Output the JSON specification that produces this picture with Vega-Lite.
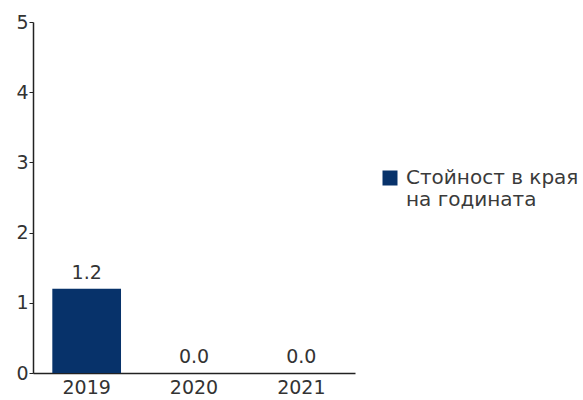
{
  "$schema": "https://vega.github.io/schema/vega-lite/v6.json",
  "width": 322,
  "height": 351,
  "autosize": "none",
  "padding": {"left": 33, "top": 22, "right": 228, "bottom": 27},
  "background": "white",
  "config": {
    "view": {"stroke": null},
    "font": "DejaVu Sans"
  },
  "data": {
    "values": [
      {"year": "2019", "value": 1.2, "series": "Стойност в края на годината"},
      {"year": "2020", "value": 0.0, "series": "Стойност в края на годината"},
      {"year": "2021", "value": 0.0, "series": "Стойност в края на годината"}
    ]
  },
  "encoding": {
    "x": {
      "field": "year",
      "type": "nominal",
      "scale": {"paddingInner": 0.36, "paddingOuter": 0.18},
      "axis": {
        "title": null,
        "labelAngle": 0,
        "ticks": false,
        "labelPadding": 5,
        "labelFontSize": 19,
        "labelColor": "#333333",
        "domainColor": "#222222",
        "domainWidth": 1.5,
        "grid": false
      }
    },
    "y": {
      "field": "value",
      "type": "quantitative",
      "scale": {"domain": [0, 5], "nice": false},
      "axis": {
        "title": null,
        "values": [0, 1, 2, 3, 4, 5],
        "grid": false,
        "tickSize": 4,
        "tickColor": "#222222",
        "labelFontSize": 19,
        "labelColor": "#333333",
        "labelPadding": 1,
        "domainColor": "#222222",
        "domainWidth": 1.5
      }
    }
  },
  "layer": [
    {
      "mark": {"type": "bar", "color": "#07326a"},
      "encoding": {
        "color": {
          "field": "series",
          "type": "nominal",
          "scale": {"range": ["#07326a"]},
          "legend": {
            "title": null,
            "orient": "none",
            "legendX": 347,
            "legendY": 146,
            "symbolType": "square",
            "symbolSize": 225,
            "symbolStrokeWidth": 0,
            "labelOffset": 6,
            "labelFontSize": 20,
            "labelLineHeight": 26,
            "labelColor": "#3a3a3a",
            "labelLimit": 300,
            "labelExpr": "['Стойност в края', 'на годината']"
          }
        }
      }
    },
    {
      "mark": {"type": "text", "dy": -10, "baseline": "alphabetic", "fontSize": 19, "color": "#333333"},
      "encoding": {
        "text": {"field": "value", "type": "quantitative", "format": ".1f"}
      }
    }
  ]
}
